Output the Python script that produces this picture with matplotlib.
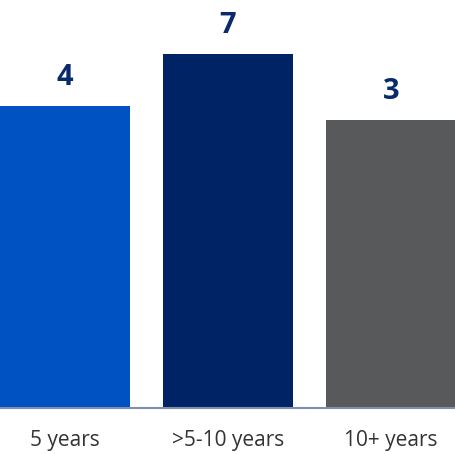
import matplotlib
matplotlib.use('Agg')
import matplotlib.pyplot as plt

# categories, labels shown above the bars, and bar heights
categories = ['5 years', '>5-10 years', '10+ years']
counts = [4, 7, 3]
heights = [8.63, 10.11, 8.23]
colors = ['#0052C2', '#002366', '#58595B']

plt.rcParams['font.family'] = ['Open Sans', 'DejaVu Sans']

fig = plt.figure(figsize=(4.56, 4.54), dpi=100)
ax = fig.add_axes([0, 46 / 454, 1, 408 / 454])

x = range(len(categories))
bars = ax.bar(x, heights, width=0.8, color=colors)

for b, n in zip(bars, counts):
    ax.text(b.get_x() + b.get_width() / 2, b.get_height() + 0.4, str(n),
            ha='center', va='bottom', fontsize=21, fontweight='bold',
            color='#0A2A6B')

ax.set_xlim(-0.4, 2.4)
ax.set_ylim(0, 408 / 35)
ax.set_xticks(list(x))
ax.set_xticklabels(categories, fontsize=15, color='#333333')
ax.tick_params(axis='x', length=0, pad=16)
ax.set_yticks([])
for s in ['top', 'right', 'left']:
    ax.spines[s].set_visible(False)
ax.spines['bottom'].set_color('#7F8FB0')
ax.spines['bottom'].set_linewidth(1.5)

fig.savefig('out.png', dpi=100)
